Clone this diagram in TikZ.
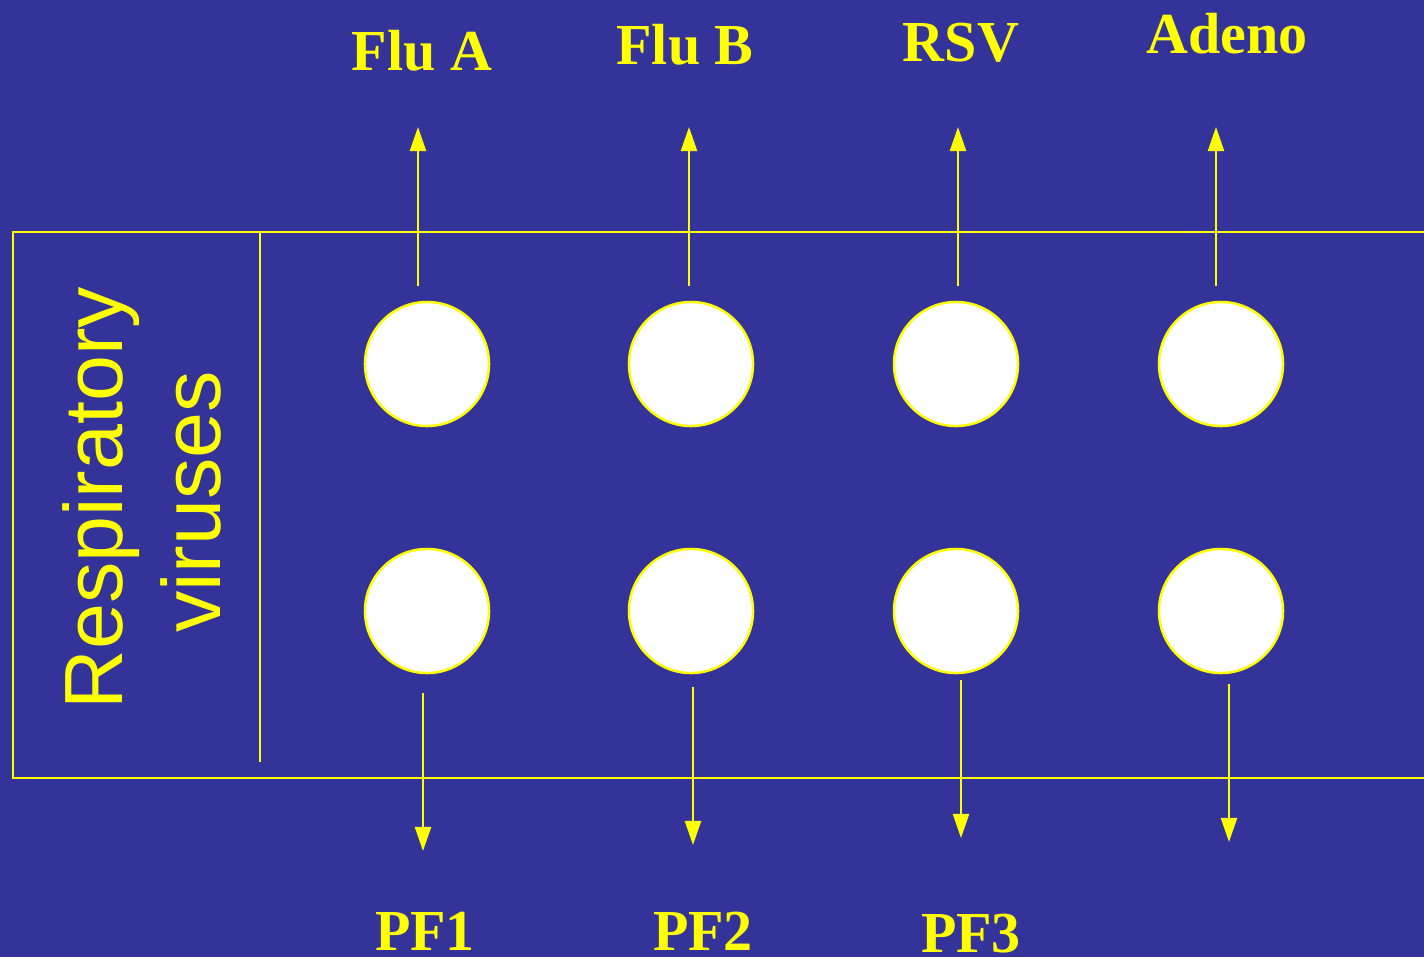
\documentclass[tikz,border=0pt]{standalone}
\usepackage{fontspec}
\setmainfont{Liberation Serif}
\newfontfamily\arialfont{Liberation Sans}
\usetikzlibrary{arrows.meta}
\definecolor{bgblue}{HTML}{333399}
\definecolor{yel}{HTML}{FFFF00}
\begin{document}
\begin{tikzpicture}[x=0.01cm,y=-0.01cm,
  yline/.style={draw=yel,line width=0.6pt},
  arr/.style={yline,-{Triangle[width=0.16cm,length=0.24cm]}},
  dot/.style={circle,draw=yel,line width=0.7pt,fill=white,minimum size=1.24cm,inner sep=0pt},
  toplabel/.style={text=yel,font=\fontsize{16.5pt}{19pt}\selectfont\bfseries,anchor=base,inner sep=0pt},
  sidelabel/.style={text=yel,font=\arialfont\fontsize{23.5pt}{28pt}\selectfont,anchor=base,inner sep=0pt,rotate=90}]
\fill[bgblue] (0,0) rectangle (1424,957);
\useasboundingbox (0,0) rectangle (1424,957);
% frame
\draw[yline] (1430,232) -- (13,232) -- (13,778) -- (1430,778);
\draw[yline] (260,232) -- (260,762);
% side text
\node[sidelabel] (r1) at (122,498) {Respiratory};
\node[sidelabel] (r2) at (220,502) {viruses};
% circles
\foreach \i/\x in {1/427,2/691,3/956,4/1221}{
  \node[dot] (u\i) at (\x,364) {};
  \node[dot] (d\i) at (\x,611) {};
}
% top labels
\node[toplabel] (t1) at (422,70) {Flu A};
\node[toplabel] (t2) at (685,64) {Flu B};
\node[toplabel] (t3) at (961,61) {RSV};
\node[toplabel] (t4) at (1227,53) {Adeno};
% bottom labels
\node[toplabel] (b1) at (425,950) {PF1};
\node[toplabel] (b2) at (703,950) {PF2};
\node[toplabel] (b3) at (971,952) {PF3};
% arrow coordinates
\coordinate (ua1) at (418,286); \coordinate (ub1) at (418,127);
\coordinate (ua2) at (689,286); \coordinate (ub2) at (689,127);
\coordinate (ua3) at (958,286); \coordinate (ub3) at (958,127);
\coordinate (ua4) at (1216,286); \coordinate (ub4) at (1216,127);
\coordinate (da1) at (423,693); \coordinate (db1) at (423,851);
\coordinate (da2) at (693,687); \coordinate (db2) at (693,845);
\coordinate (da3) at (961,680); \coordinate (db3) at (961,838);
\coordinate (da4) at (1229,684); \coordinate (db4) at (1229,842);
\foreach \i in {1,2,3,4}{
  \draw[arr] (ua\i) -- (ub\i);
  \draw[arr] (da\i) -- (db\i);
}
\end{tikzpicture}
\end{document}
